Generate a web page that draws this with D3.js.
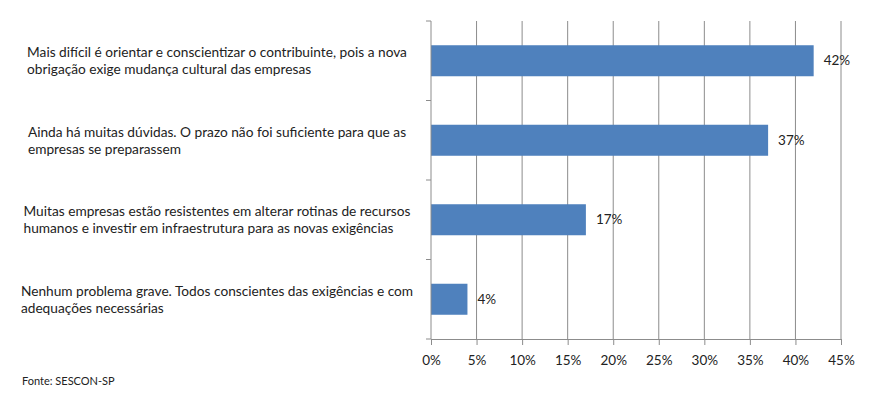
<!DOCTYPE html>
<html>
<head>
<meta charset="utf-8">
<script src="https://cdn.jsdelivr.net/npm/d3@7"></script>
<style>
  body { margin: 0; background: #fff; }
  text { font-family: Lato, "Open Sans", sans-serif; fill: #222; }
</style>
</head>
<body>
<div class="chart"></div>
<script>
var categories = [
  ["Mais difícil é orientar e conscientizar o contribuinte, pois a nova", "obrigação exige mudança cultural das empresas"],
  ["Ainda há muitas dúvidas. O prazo não foi suficiente para que as", "empresas se preparassem"],
  ["Muitas empresas estão resistentes em alterar rotinas de recursos", "humanos e investir em infraestrutura para as novas exigências"],
  ["Nenhum problema grave. Todos conscientes das exigências e com", "adequações necessárias"]
];
var values = [42, 37, 17, 4];
var tickValues = [0, 5, 10, 15, 20, 25, 30, 35, 40, 45];
var source = "Fonte: SESCON-SP";

var width = 872, height = 398;
var x0 = 431, x1 = 841, yTop = 21, yBot = 339;

var svg = d3.select(".chart").append("svg")
  .attr("width", width)
  .attr("height", height);

var x = d3.scaleLinear().domain([0, 45]).range([x0, x1]);
var y = d3.scaleBand().domain(d3.range(categories.length)).range([yTop, yBot]).paddingInner(0.61).paddingOuter(0.305);

// gridlines
svg.selectAll(".grid").data(tickValues.slice(1)).enter().append("line")
  .attr("x1", function(d) { return x(d); })
  .attr("x2", function(d) { return x(d); })
  .attr("y1", yTop).attr("y2", yBot)
  .attr("stroke", "#8c8c8c").attr("stroke-width", 1);

// bars
svg.selectAll(".bar").data(values).enter().append("rect")
  .attr("x", x(0))
  .attr("y", function(d, i) { return y(i); })
  .attr("width", function(d) { return x(d) - x(0); })
  .attr("height", y.bandwidth())
  .attr("fill", "#4f81bd");

// value labels
svg.selectAll(".val").data(values).enter().append("text")
  .attr("x", function(d) { return x(d) + 10; })
  .attr("y", function(d, i) { return y(i) + y.bandwidth() / 2; })
  .attr("dy", "0.35em")
  .style("font-size", "13.5px")
  .text(function(d) { return d + "%"; });

// x axis
var xAxis = svg.append("g")
  .attr("transform", "translate(0," + yBot + ")")
  .call(d3.axisBottom(x).tickValues(tickValues).tickSize(6).tickPadding(10)
    .tickFormat(function(d) { return d + "%"; }));
xAxis.select(".domain").attr("stroke", "#8c8c8c");
xAxis.selectAll(".tick line").attr("stroke", "#8c8c8c");
xAxis.selectAll("text").style("font-size", "13.5px").style("font-family", "Lato, sans-serif").attr("fill", "#222");

// y axis (category separators)
var sep = d3.range(categories.length + 1).map(function(i) { return yTop + i * (yBot - yTop) / categories.length; });
svg.append("line").attr("x1", x0).attr("x2", x0).attr("y1", yTop).attr("y2", yBot)
  .attr("stroke", "#8c8c8c");
svg.selectAll(".ytick").data(sep).enter().append("line")
  .attr("x1", x0 - 5).attr("x2", x0)
  .attr("y1", function(d) { return d; }).attr("y2", function(d) { return d; })
  .attr("stroke", "#8c8c8c");

// category labels, left aligned blocks centred on a column
var blockCenter = 217, lineH = 17;
categories.forEach(function(lines, i) {
  var cy = y(i) + y.bandwidth() / 2;
  var g = svg.append("g");
  var t = g.selectAll("text").data(lines).enter().append("text")
    .attr("y", function(d, j) { return cy + (j - (lines.length - 1) / 2) * lineH; })
    .attr("dy", "0.35em")
    .style("font-size", "13.7px")
    .text(function(d) { return d; });
  var w = d3.max(t.nodes(), function(n) { return n.getComputedTextLength(); });
  t.attr("x", blockCenter - w / 2);
});

svg.append("text")
  .attr("x", 22).attr("y", 381)
  .attr("dy", "0.35em")
  .style("font-size", "11px")
  .text(source);
</script>
</body>
</html>
